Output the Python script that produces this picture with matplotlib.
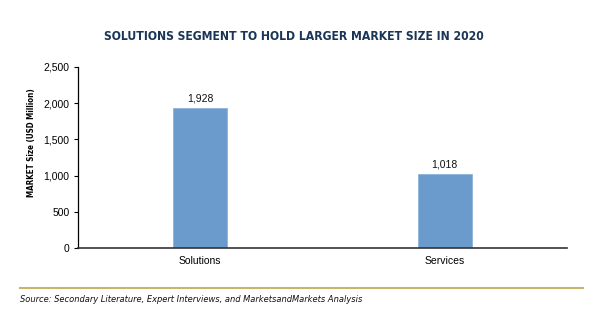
import matplotlib
matplotlib.use("Agg")
import matplotlib.pyplot as plt
from matplotlib.lines import Line2D

categories = ["Solutions", "Services"]
values = [1928, 1018]
yticks = [0, 500, 1000, 1500, 2000, 2500]

fig = plt.figure(figsize=(6, 3.25), dpi=100)
ax = fig.add_axes([78/600, 1-248/325, (567-78)/600, (248-67)/325])

x = range(len(categories))
bars = ax.bar(x, values, width=0.22, color="#6a9bcc", edgecolor="#8db4da", linewidth=0.6, zorder=2)
for xi, v in zip(x, values):
    ax.text(xi, v + 70, f"{v:,}", ha="center", va="bottom", fontsize=7.5,
            family="Liberation Sans", color="#111111")

ax.set_xlim(-0.5, 1.5)
ax.set_ylim(0, 2500)
ax.set_yticks(yticks)
ax.set_yticklabels([f"{t:,}" for t in yticks], family="Liberation Sans", fontsize=7.5)
ax.set_xticks(list(x))
ax.set_xticklabels(categories, family="Liberation Sans", fontsize=7.5)
ax.tick_params(axis="x", length=0, pad=6)
ax.tick_params(axis="y", length=3, width=0.8, pad=3, direction="out")
for s in ["top", "right"]:
    ax.spines[s].set_visible(False)
ax.spines["left"].set_linewidth(0.9)
ax.spines["bottom"].set_linewidth(1.2)
ax.spines["bottom"].set_color("#333333")
ax.set_ylabel("MARKET Size (USD Million)", family="DejaVu Sans", fontstretch="condensed",
              fontweight="bold", fontsize=5.8)
ax.yaxis.set_label_coords((36-78)/489, (248-143)/181)

fig.text(294/600, 1-37/325, "SOLUTIONS SEGMENT TO HOLD LARGER MARKET SIZE IN 2020",
         ha="center", va="center", fontsize=8.7, fontweight="bold",
         family="DejaVu Sans", fontstretch="condensed", color="#1b3556")

fig.add_artist(Line2D([20/600, 583/600], [1-288/325, 1-288/325], color="#c9b46a", linewidth=1.5,
                      transform=fig.transFigure))
fig.text(20/600, 1-300/325, "Source: Secondary Literature, Expert Interviews, and MarketsandMarkets Analysis",
         ha="left", va="center", fontsize=6.7, style="italic", family="DejaVu Sans",
         fontstretch="condensed", color="#111111")

fig.savefig("out.png", dpi=100)
